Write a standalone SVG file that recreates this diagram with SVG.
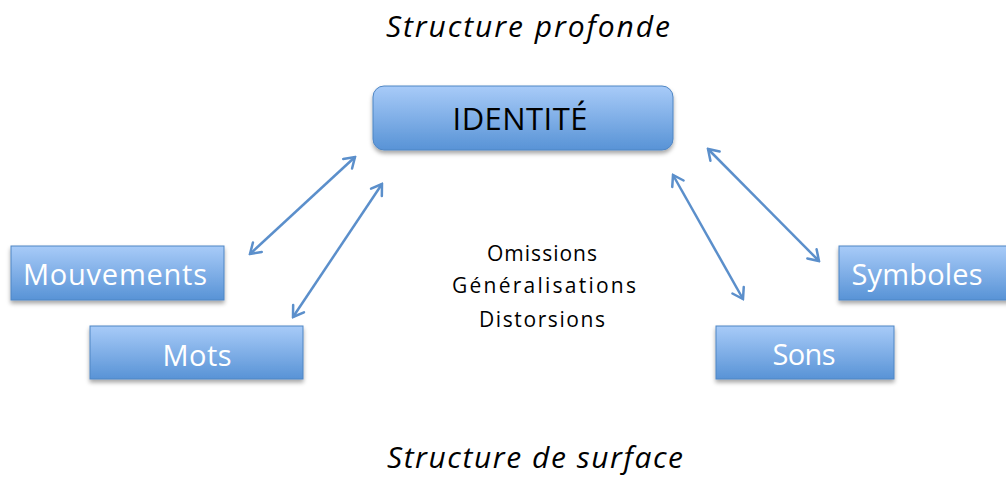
<svg xmlns="http://www.w3.org/2000/svg" width="1006" height="480" viewBox="0 0 1006 480">
  <style>
    .box { fill: url(#boxFill); stroke: #4f86c4; stroke-width: 1; filter: url(#shadow); }
    .lbl { font-family: "Open Sans", "Liberation Sans", sans-serif; fill: #ffffff; font-size: 29px; text-anchor: middle; }
    .title { font-family: "Open Sans", "Liberation Sans", sans-serif; font-style: italic; font-size: 30px; fill: #000000; text-anchor: middle; }
    .note { font-family: "Open Sans", "Liberation Sans", sans-serif; font-size: 21px; fill: #000000; text-anchor: middle; }
    .link { stroke: #5b8fcb; stroke-width: 2.5; fill: none; marker-start: url(#head); marker-end: url(#head); }
  </style>
  <defs>
    <linearGradient id="boxFill" x1="0" y1="0" x2="0" y2="1">
      <stop offset="0" stop-color="#a8cbf8"/>
      <stop offset="1" stop-color="#5893d6"/>
    </linearGradient>
    <filter id="shadow" x="-10%" y="-20%" width="120%" height="150%">
      <feDropShadow dx="0" dy="3" stdDeviation="2" flood-color="#000000" flood-opacity="0.35"/>
    </filter>
    <marker id="head" viewBox="-13 -8 15 16" refX="0" refY="0" markerWidth="15" markerHeight="16" markerUnits="userSpaceOnUse" orient="auto-start-reverse">
      <path d="M-10,-6.5 L0,0 L-10,6.5" fill="none" stroke="#5b8fcb" stroke-width="2.5" stroke-linecap="round"/>
    </marker>
  </defs>

  <text class="title" x="528" y="37" textLength="284">Structure profonde</text>
  <text class="title" x="535" y="468" textLength="296">Structure de surface</text>

  <g id="connectors">
    <line class="link" x1="250" y1="254" x2="355" y2="157"/>
    <line class="link" x1="293" y1="317" x2="382" y2="184"/>
    <line class="link" x1="743" y1="299" x2="673" y2="175"/>
    <line class="link" x1="819" y1="261" x2="708" y2="149"/>
  </g>

  <g id="identite">
    <rect class="box" x="373" y="86" width="300" height="64" rx="11"/>
    <text x="520" y="130" font-family="'Open Sans', 'Liberation Sans', sans-serif" font-size="31" fill="#000000" text-anchor="middle" textLength="135">IDENTITÉ</text>
  </g>

  <g id="mouvements">
    <rect class="box" x="11" y="246" width="213" height="54"/>
    <text class="lbl" x="115" y="285" textLength="184">Mouvements</text>
  </g>

  <g id="mots">
    <rect class="box" x="90" y="326" width="213" height="53"/>
    <text class="lbl" x="197" y="366" textLength="69">Mots</text>
  </g>

  <g id="symboles">
    <rect class="box" x="839" y="246" width="180" height="54"/>
    <text class="lbl" x="917" y="285" textLength="131">Symboles</text>
  </g>

  <g id="sons">
    <rect class="box" x="716" y="326" width="178" height="53"/>
    <text class="lbl" x="804" y="365" textLength="63">Sons</text>
  </g>

  <g id="processus">
    <text class="note" x="542" y="261" textLength="110">Omissions</text>
    <text class="note" x="544" y="293" textLength="184">Généralisations</text>
    <text class="note" x="542" y="327" textLength="126">Distorsions</text>
  </g>
</svg>
